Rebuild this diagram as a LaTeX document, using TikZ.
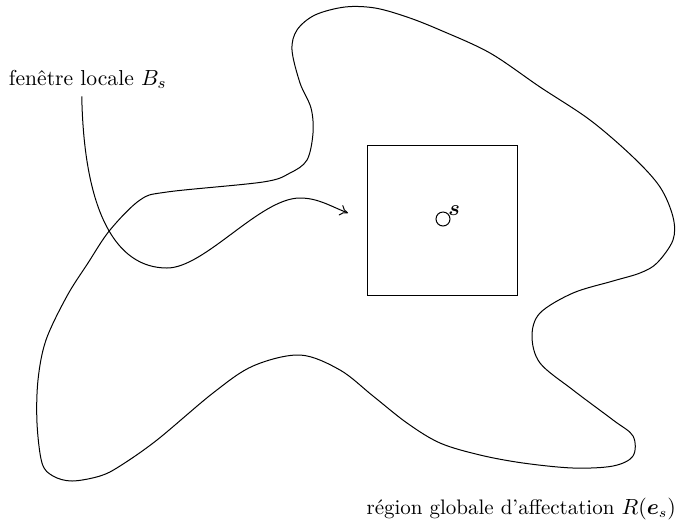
\documentclass[tikz,border=0pt]{standalone}
\usepackage{fontspec}
\usepackage{bm}
\usetikzlibrary{arrows.meta}
\begin{document}
\begin{tikzpicture}[x=.5pt,y=-.5pt,line width=0.5pt,
  txt/.style={inner sep=0pt,outer sep=0pt},
  outline/.style={draw,inner sep=0pt,outer sep=0pt}]
\path[use as bounding box] (0,0) rectangle (679,526);
\node[txt,anchor=base west,font=\fontsize{10.8}{13}\selectfont] (fen) at (9,85) {fenêtre locale $B_s$};
\node[txt,anchor=base east,font=\fontsize{10.5}{12.6}\selectfont] (reg) at (676,514) {région globale d'affectation $R(\bm{e}_s)$};
\node[outline,minimum size=75pt] (win) at (442,220) {};
\node[outline,circle,minimum size=7pt] (s) at (443,219) {};
\node[inner sep=1pt,anchor=south west,font=\fontsize{10.5}{12.6}\selectfont] (slab) at ([xshift=-1pt,yshift=-2pt]s.north east) {$\bm{s}$};
\coordinate (tip) at (348,213);
\draw plot[smooth cycle,tension=0.55] coordinates {(345,7) (375,8) (407,17) (440,30) (490,53) (540,87) (590,120) (633,157) (660,187) (673,217) (673,240) (657,263) (640,273) (613,281) (573,293) (540,313) (532,336) (540,363) (573,390) (613,420) (633,436) (633,456) (613,466) (573,468) (523,463) (480,455) (440,443) (407,423) (373,396) (340,370) (300,355) (253,366) (213,393) (157,440) (120,466) (100,476) (72,481) (53,476) (42,463) (37,423) (38,380) (46,340) (67,296) (88,263) (110,230) (140,200) (167,192) (263,182) (290,173) (307,160) (313,133) (311,108) (300,83) (292,50) (297,30) (315,15)};
\draw[-{To[length=4pt,width=5.5pt]}] ([xshift=-3pt,yshift=-4pt]fen.south) .. controls (84,210) and (115,268) .. (167,268) .. controls (205,268) and (260,198) .. (300,198) .. controls (318,198) and (330,206) .. (tip);
\end{tikzpicture}
\end{document}
